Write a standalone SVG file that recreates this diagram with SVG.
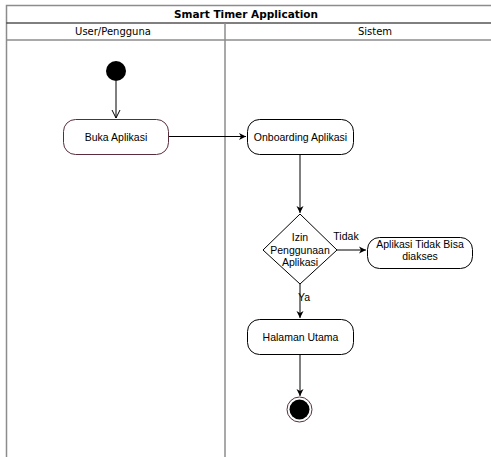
<svg xmlns="http://www.w3.org/2000/svg" width="491" height="457" viewBox="0 0 491 457">
<style>
.lane{fill:none;stroke:#8c8c8c;stroke-width:1.5}
.hdr{font-family:"DejaVu Sans",Verdana,sans-serif;font-size:10px;fill:#000;text-anchor:middle}
.ttl{font-family:"DejaVu Sans",Verdana,sans-serif;font-size:10.5px;font-weight:bold;fill:#000;text-anchor:middle}
.node{fill:#fff;stroke:#000;stroke-width:1}
.nodem{fill:#fff;stroke:#5a2d3c;stroke-width:1}
.lbl{font-family:"Liberation Sans",Arial,sans-serif;font-size:10.5px;fill:#000;text-anchor:middle}
.edge{fill:none;stroke:#000;stroke-width:1}
</style>
<defs>
<marker id="arr" markerWidth="8" markerHeight="8" refX="7" refY="4" orient="auto" markerUnits="userSpaceOnUse">
<path d="M0,0.5 L7,4 L0,7.5 L2,4 Z" fill="#000"/>
</marker>
<marker id="open" markerWidth="10" markerHeight="10" refX="5" refY="9" orient="0" markerUnits="userSpaceOnUse">
<path d="M1,1 L5,9 L9,1" fill="none" stroke="#000" stroke-width="1"/>
</marker>
</defs>
<rect width="491" height="457" fill="#fff"/>
<g id="pool">
<path class="lane" d="M6.5,470 L6.5,5.5 L500,5.5"/>
<line x1="6.5" y1="23" x2="500" y2="23" stroke="#000" stroke-width="1"/>
<line x1="6.5" y1="40" x2="500" y2="40" stroke="#8c8c8c" stroke-width="1.5"/>
<line x1="225" y1="23" x2="225" y2="470" stroke="#8c8c8c" stroke-width="1.5"/>
<text class="ttl" x="246" y="18">Smart Timer Application</text>
<text class="hdr" x="113" y="35">User/Pengguna</text>
<text class="hdr" x="375" y="35">Sistem</text>
</g>
<g id="connectors">
<line class="edge" x1="116" y1="81" x2="116" y2="118" marker-end="url(#open)"/>
<line class="edge" x1="168" y1="136.5" x2="246" y2="136.5" marker-end="url(#arr)"/>
<line class="edge" x1="300" y1="154" x2="300" y2="213" marker-end="url(#arr)"/>
<line class="edge" x1="337" y1="250" x2="366" y2="250" marker-end="url(#arr)"/>
<line class="edge" x1="300" y1="284" x2="300" y2="318" marker-end="url(#arr)"/>
<line class="edge" x1="300" y1="354" x2="300" y2="396" marker-end="url(#arr)"/>
<text class="lbl" x="346" y="240">Tidak</text>
<text class="lbl" x="304" y="301" text-anchor="start">Ya</text>
</g>
<g id="start">
<circle cx="116" cy="71" r="10" fill="#000"/>
</g>
<g id="buka">
<rect class="nodem" x="63.5" y="119.5" width="105" height="35" rx="12"/>
<text class="lbl" x="116" y="140.5">Buka Aplikasi</text>
</g>
<g id="onboarding">
<rect class="node" x="247.5" y="119.5" width="106" height="35" rx="12"/>
<text class="lbl" x="300.5" y="140.5">Onboarding Aplikasi</text>
</g>
<g id="decision">
<path class="node" d="M300,214 L337,250 L300,284 L263,250 Z"/>
<text class="lbl" x="300" y="241">Izin</text>
<text class="lbl" x="300" y="254">Penggunaan</text>
<text class="lbl" x="300" y="266">Aplikasi</text>
</g>
<g id="tidakbisa">
<rect class="node" x="367.5" y="237.5" width="105" height="31" rx="12"/>
<text class="lbl" x="420" y="248">Aplikasi Tidak Bisa</text>
<text class="lbl" x="420" y="260">diakses</text>
</g>
<g id="halaman">
<rect class="node" x="247.5" y="319.5" width="106" height="35" rx="12"/>
<text class="lbl" x="300.5" y="340.5">Halaman Utama</text>
</g>
<g id="end">
<circle cx="299.5" cy="409.5" r="12.5" fill="#fff" stroke="#5a2d3c" stroke-width="1"/>
<circle cx="299.5" cy="409.5" r="10" fill="#000"/>
</g>
</svg>
